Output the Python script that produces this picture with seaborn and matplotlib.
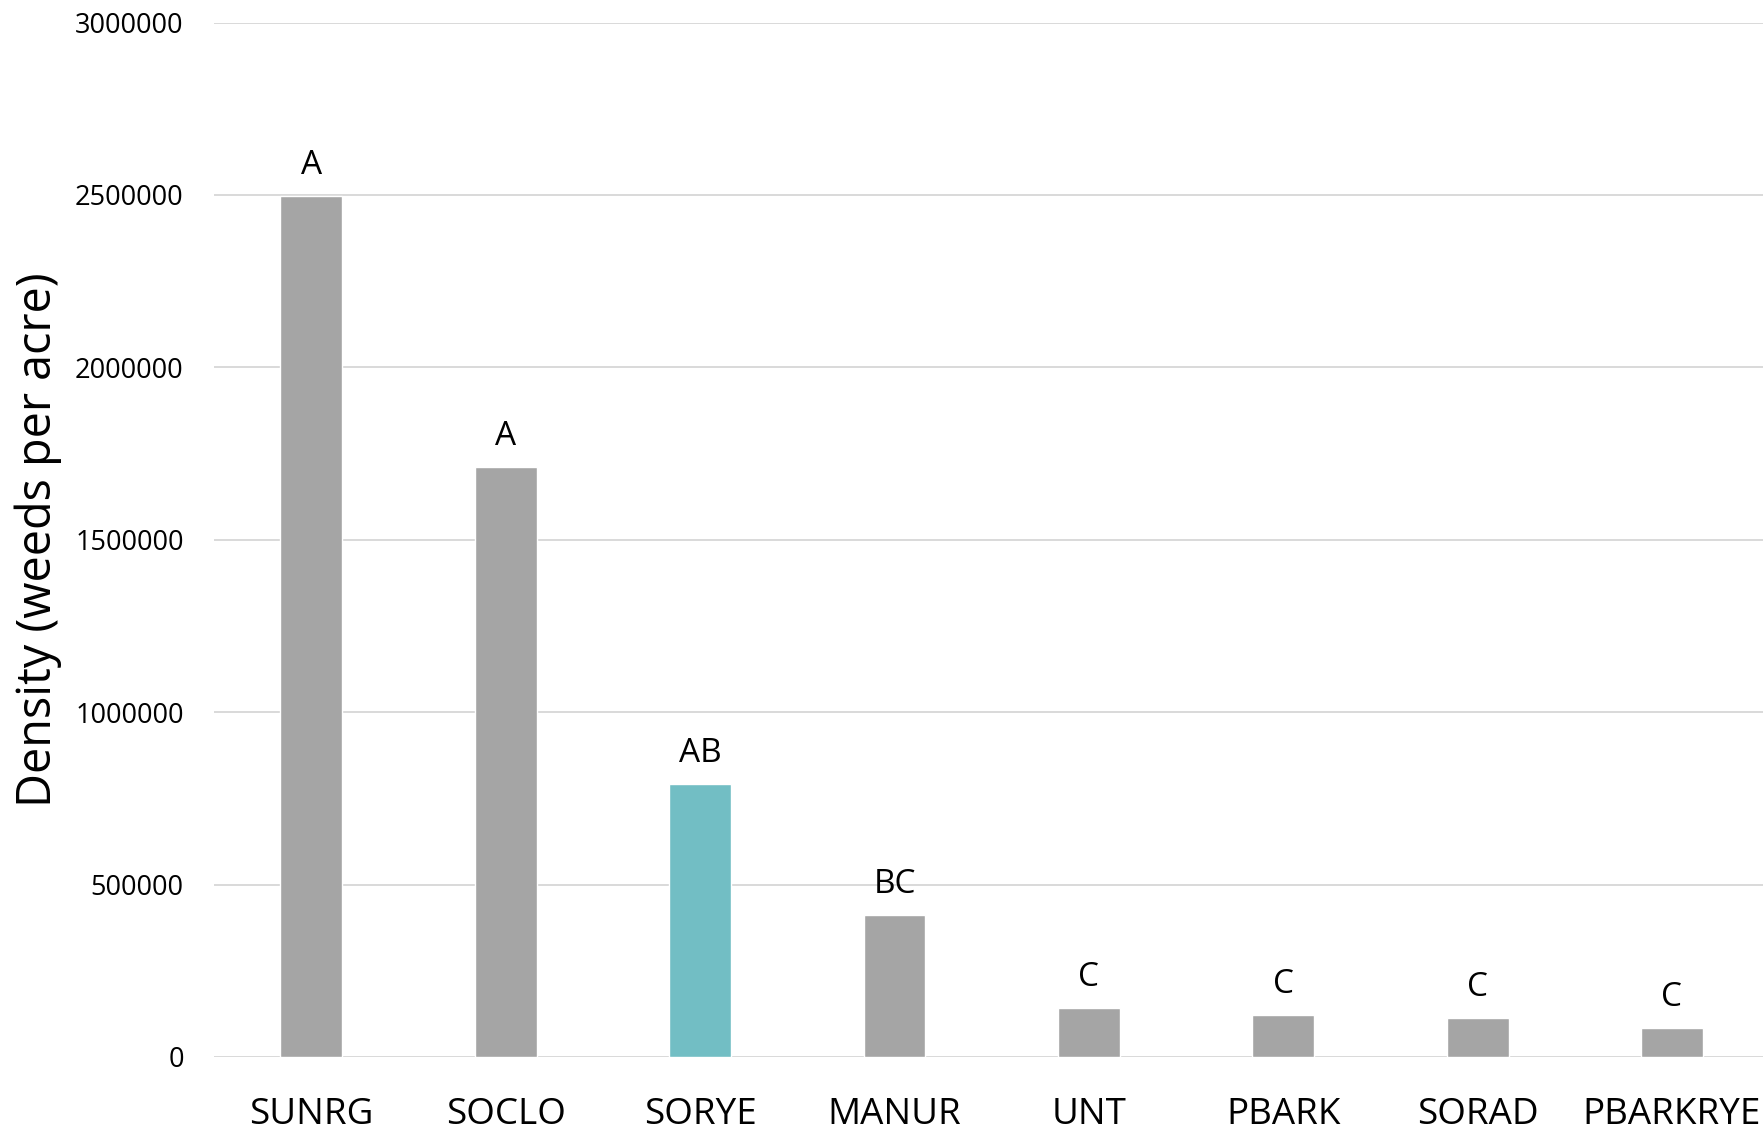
import pandas as pd
import seaborn as sns
import matplotlib.pyplot as plt

# treatments and mean weed density
treatments = ['SUNRG', 'SOCLO', 'SORYE', 'MANUR', 'UNT', 'PBARK', 'SORAD', 'PBARKRYE']
density = [2497000, 1711000, 792000, 411000, 141500, 121000, 112500, 83500]
groups = ['A', 'A', 'AB', 'BC', 'C', 'C', 'C', 'C']
highlight = 'SORYE'

grey = '#A5A5A5'
teal = '#72BEC4'

df = pd.DataFrame({'Treatment': treatments, 'Density': density, 'Group': groups})
colors = [teal if t == highlight else grey for t in treatments]

sns.set_style('white')
plt.rcParams['font.family'] = ['Open Sans', 'DejaVu Sans']
plt.rcParams['text.color'] = 'black'
plt.rcParams['axes.labelcolor'] = 'black'
plt.rcParams['xtick.color'] = 'black'
plt.rcParams['ytick.color'] = 'black'

fig = plt.figure(figsize=(17.63, 11.30), dpi=100)
ax = fig.add_axes([0.1215, 0.0647, 0.882, 0.9153])

sns.barplot(data=df, x='Treatment', y='Density', hue='Treatment',
            palette=colors, legend=False, width=0.318, saturation=1,
            ax=ax, zorder=3)

# significance letters above each bar
for i, (val, grp) in enumerate(zip(density, groups)):
    ax.annotate(grp, (i, val), xytext=(0, 16), textcoords='offset points',
                ha='center', va='baseline', fontsize=24, color='black')

ax.set_ylim(0, 3000000)
ax.set_xlim(-0.5, 7.5)
ax.set_yticks(range(0, 3000001, 500000))
ax.set_yticklabels([str(v) for v in range(0, 3000001, 500000)])
ax.yaxis.grid(True, color='#D9D9D9', linewidth=1.4, zorder=0)
ax.set_axisbelow(True)
sns.despine(ax=ax, left=True, bottom=True)

ax.tick_params(axis='y', length=0, pad=22, labelsize=19.5)
ax.tick_params(axis='x', length=0, pad=29, labelsize=26.5)
ax.set_xlabel('')
ax.set_ylabel('Density (weeds per acre)', fontsize=33.7)
ax.yaxis.set_label_coords(-0.098, 0.5)

fig.savefig('out.png', dpi=100)
